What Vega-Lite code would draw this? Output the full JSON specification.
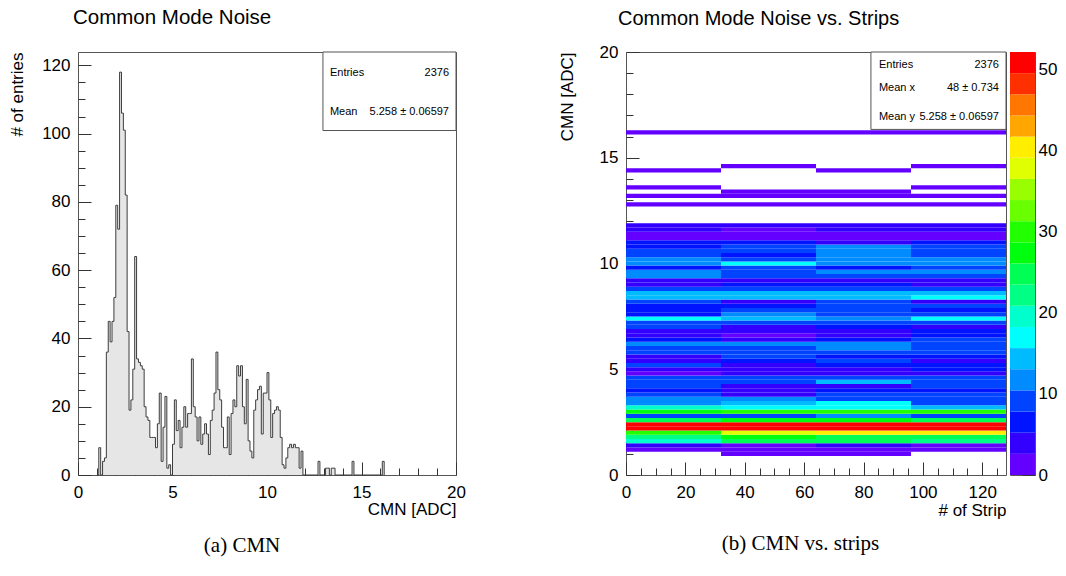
{
  "$schema": "https://vega.github.io/schema/vega-lite/v6.json",
  "background": "white",
  "padding": {"left": 8, "top": 7, "right": 5, "bottom": 5},
  "config": {
    "font": "Liberation Sans",
    "view": {"stroke": "#555555", "strokeWidth": 1},
    "axis": {"domain": false, "grid": false, "labelFontSize": 17, "labelColor": "#000000", "titleFontSize": 17, "titleFontWeight": "normal", "titleColor": "#000000", "tickColor": "#333333", "labelFlush": false, "labelOverlap": false},
    "title": {"fontSize": 20, "fontWeight": "normal", "color": "#000000"}
  },
  "spacing": 91,
  "hconcat": [
    {
      "title": {"text": "(a) CMN", "orient": "bottom", "font": "Liberation Serif", "fontSize": 21, "anchor": "middle", "frame": "bounds", "offset": 17, "dx": 5},
      "hconcat": [
        {
          "width": 378,
          "height": 423,
          "title": {"text": "Common Mode Noise", "anchor": "start", "frame": "group", "offset": 23, "dx": -5, "fontSize": 20.5},
          "resolve": {"axis": {"x": "independent", "y": "independent"}},
          "layer": [
            {
              "data": {"name": "hist", "values": [
                {"x": 1.0, "n": 0}, {"x": 1.1, "n": 8}, {"x": 1.2, "n": 0}, {"x": 1.3, "n": 4}, {"x": 1.4, "n": 5},
                {"x": 1.5, "n": 36}, {"x": 1.6, "n": 45}, {"x": 1.7, "n": 39}, {"x": 1.8, "n": 45}, {"x": 1.9, "n": 52},
                {"x": 2.0, "n": 79}, {"x": 2.1, "n": 72}, {"x": 2.2, "n": 118}, {"x": 2.3, "n": 106}, {"x": 2.4, "n": 101},
                {"x": 2.5, "n": 82}, {"x": 2.6, "n": 42}, {"x": 2.7, "n": 19}, {"x": 2.8, "n": 22}, {"x": 2.9, "n": 31},
                {"x": 3.0, "n": 64}, {"x": 3.1, "n": 34}, {"x": 3.2, "n": 33}, {"x": 3.3, "n": 32}, {"x": 3.4, "n": 31},
                {"x": 3.5, "n": 20}, {"x": 3.6, "n": 17}, {"x": 3.7, "n": 16}, {"x": 3.8, "n": 11}, {"x": 3.9, "n": 11},
                {"x": 4.0, "n": 11}, {"x": 4.1, "n": 8}, {"x": 4.2, "n": 15}, {"x": 4.3, "n": 24}, {"x": 4.4, "n": 4},
                {"x": 4.5, "n": 14}, {"x": 4.6, "n": 23}, {"x": 4.7, "n": 2}, {"x": 4.8, "n": 3}, {"x": 4.9, "n": 0},
                {"x": 5.0, "n": 9}, {"x": 5.1, "n": 22}, {"x": 5.2, "n": 13}, {"x": 5.3, "n": 16}, {"x": 5.4, "n": 8},
                {"x": 5.5, "n": 14}, {"x": 5.6, "n": 20}, {"x": 5.7, "n": 14}, {"x": 5.8, "n": 18}, {"x": 5.9, "n": 18},
                {"x": 6.0, "n": 34}, {"x": 6.1, "n": 20}, {"x": 6.2, "n": 17}, {"x": 6.3, "n": 10}, {"x": 6.4, "n": 17},
                {"x": 6.5, "n": 9}, {"x": 6.6, "n": 12}, {"x": 6.7, "n": 15}, {"x": 6.8, "n": 12}, {"x": 6.9, "n": 6},
                {"x": 7.0, "n": 16}, {"x": 7.1, "n": 19}, {"x": 7.2, "n": 24}, {"x": 7.3, "n": 36}, {"x": 7.4, "n": 25},
                {"x": 7.5, "n": 22}, {"x": 7.6, "n": 14}, {"x": 7.7, "n": 8}, {"x": 7.8, "n": 8}, {"x": 7.9, "n": 17},
                {"x": 8.0, "n": 6}, {"x": 8.1, "n": 18}, {"x": 8.2, "n": 22}, {"x": 8.3, "n": 20}, {"x": 8.4, "n": 32},
                {"x": 8.5, "n": 29}, {"x": 8.6, "n": 32}, {"x": 8.7, "n": 20}, {"x": 8.8, "n": 15}, {"x": 8.9, "n": 28},
                {"x": 9.0, "n": 10}, {"x": 9.1, "n": 7}, {"x": 9.2, "n": 5}, {"x": 9.3, "n": 19}, {"x": 9.4, "n": 22},
                {"x": 9.5, "n": 25}, {"x": 9.6, "n": 26}, {"x": 9.7, "n": 12}, {"x": 9.8, "n": 24}, {"x": 9.9, "n": 24},
                {"x": 10.0, "n": 30}, {"x": 10.1, "n": 22}, {"x": 10.2, "n": 11}, {"x": 10.3, "n": 18}, {"x": 10.4, "n": 19},
                {"x": 10.5, "n": 20}, {"x": 10.6, "n": 19}, {"x": 10.7, "n": 11}, {"x": 10.8, "n": 3}, {"x": 10.9, "n": 2},
                {"x": 11.0, "n": 5}, {"x": 11.1, "n": 8}, {"x": 11.2, "n": 9}, {"x": 11.3, "n": 8}, {"x": 11.4, "n": 9},
                {"x": 11.5, "n": 8}, {"x": 11.6, "n": 8}, {"x": 11.7, "n": 2}, {"x": 11.8, "n": 7}, {"x": 11.9, "n": 0},
                {"x": 12.7, "n": 4}, {"x": 12.8, "n": 0}, {"x": 13.1, "n": 2}, {"x": 13.2, "n": 2}, {"x": 13.3, "n": 0},
                {"x": 13.4, "n": 2}, {"x": 13.5, "n": 2}, {"x": 13.6, "n": 0}, {"x": 14.5, "n": 4}, {"x": 14.6, "n": 0},
                {"x": 16.1, "n": 4}, {"x": 16.2, "n": 0}
              ]},
              "mark": {"type": "area", "interpolate": "step-after", "color": "#e6e6e6"},
              "encoding": {
                "x": {"field": "x", "type": "quantitative", "title": "CMN [ADC]",
                  "scale": {"domain": [0, 20], "nice": false, "zero": false},
                  "axis": {"values": [0, 5, 10, 15, 20], "tickSize": -13, "labelPadding": 22, "titleAnchor": "end", "titlePadding": 1}},
                "y": {"field": "n", "type": "quantitative", "title": "# of entries",
                  "scale": {"domain": [0, 123.9], "nice": false},
                  "axis": {"values": [0, 20, 40, 60, 80, 100, 120], "tickSize": -13, "labelPadding": 21, "titleAnchor": "end", "titlePadding": 15}}
              }
            },
            {
              "data": {"name": "hist"},
              "mark": {"type": "line", "interpolate": "step-after", "color": "#3c3c3c", "strokeWidth": 1},
              "encoding": {
                "x": {"field": "x", "type": "quantitative",
                  "axis": {"orient": "bottom", "values": [1,2,3,4,6,7,8,9,11,12,13,14,16,17,18,19], "tickSize": -7, "labels": false, "title": null}},
                "y": {"field": "n", "type": "quantitative",
                  "axis": {"orient": "left", "values": [5,10,15,25,30,35,45,50,55,65,70,75,85,90,95,105,110,115], "tickSize": -7, "labels": false, "title": null}}
              }
            },
            {
              "data": {"values": [{"box": "stats"}]},
              "mark": {"type": "rect", "fill": "white", "stroke": "#555555", "strokeWidth": 1},
              "encoding": {"x": {"datum": 12.96, "axis": null}, "x2": {"datum": 20}, "y": {"datum": 100.9, "axis": null}, "y2": {"datum": 123.9}}
            },
            {
              "data": {"values": [{"label": "Entries", "value": "2376"}]},
              "layer": [
                {"mark": {"type": "text", "align": "left", "baseline": "middle", "fontSize": 11}, "encoding": {"x": {"datum": 13.33, "axis": null}, "y": {"datum": 117.8, "axis": null}, "text": {"field": "label"}}},
                {"mark": {"type": "text", "align": "right", "baseline": "middle", "fontSize": 11}, "encoding": {"x": {"datum": 19.63, "axis": null}, "y": {"datum": 117.8, "axis": null}, "text": {"field": "value"}}}
              ]
            },
            {
              "data": {"values": [{"label": "Mean", "value": "5.258 ± 0.06597"}]},
              "layer": [
                {"mark": {"type": "text", "align": "left", "baseline": "middle", "fontSize": 11}, "encoding": {"x": {"datum": 13.33, "axis": null}, "y": {"datum": 106.4, "axis": null}, "text": {"field": "label"}}},
                {"mark": {"type": "text", "align": "right", "baseline": "middle", "fontSize": 11}, "encoding": {"x": {"datum": 19.63, "axis": null}, "y": {"datum": 106.4, "axis": null}, "text": {"field": "value"}}}
              ]
            }
          ]
        }
      ]
    },
    {
      "title": {"text": "(b) CMN vs. strips", "orient": "bottom", "font": "Liberation Serif", "fontSize": 21, "anchor": "middle", "frame": "bounds", "offset": 14, "dx": -7},
      "spacing": 4,
      "bounds": "flush",
      "hconcat": [
        {
          "width": 380,
          "height": 423,
          "title": {"text": "Common Mode Noise vs. Strips", "anchor": "start", "frame": "group", "offset": 14.5, "dx": -8},
          "resolve": {"axis": {"x": "independent", "y": "independent"}},
          "layer": [
            {
              "data": {"values": [
                {"y": 0.9, "y2": 1.1, "a": 0, "b": 2, "c": 2, "d": 0},
                {"y": 1.1, "y2": 1.3, "a": 2, "b": 2, "c": 2, "d": 2},
                {"y": 1.3, "y2": 1.5, "a": 4, "b": 2, "c": 4, "d": 2},
                {"y": 1.5, "y2": 1.7, "a": 19, "b": 25, "c": 24, "d": 22},
                {"y": 1.7, "y2": 1.9, "a": 23, "b": 28, "c": 25, "d": 25},
                {"y": 1.9, "y2": 2.1, "a": 30, "b": 39, "c": 40, "d": 40},
                {"y": 2.1, "y2": 2.3, "a": 51, "b": 51, "c": 51, "d": 51},
                {"y": 2.3, "y2": 2.5, "a": 51, "b": 51, "c": 51, "d": 51},
                {"y": 2.5, "y2": 2.7, "a": 25, "b": 27, "c": 27, "d": 24},
                {"y": 2.7, "y2": 2.9, "a": 9, "b": 9, "c": 12, "d": 9},
                {"y": 2.9, "y2": 3.1, "a": 27, "b": 29, "c": 29, "d": 31},
                {"y": 3.1, "y2": 3.3, "a": 19, "b": 17, "c": 18, "d": 14},
                {"y": 3.3, "y2": 3.5, "a": 12, "b": 14, "c": 17, "d": 9},
                {"y": 3.5, "y2": 3.7, "a": 11, "b": 11, "c": 10, "d": 9},
                {"y": 3.7, "y2": 3.9, "a": 8, "b": 5, "c": 8, "d": 10},
                {"y": 3.9, "y2": 4.1, "a": 6, "b": 4, "c": 6, "d": 6},
                {"y": 4.1, "y2": 4.3, "a": 8, "b": 5, "c": 5, "d": 8},
                {"y": 4.3, "y2": 4.5, "a": 8, "b": 8, "c": 14, "d": 8},
                {"y": 4.5, "y2": 4.7, "a": 8, "b": 8, "c": 8, "d": 9},
                {"y": 4.7, "y2": 4.9, "a": 2, "b": 5, "c": 5, "d": 5},
                {"y": 4.9, "y2": 5.1, "a": 4, "b": 5, "c": 4, "d": 6},
                {"y": 5.1, "y2": 5.3, "a": 8, "b": 4, "c": 6, "d": 7},
                {"y": 5.3, "y2": 5.5, "a": 5, "b": 7, "c": 8, "d": 5},
                {"y": 5.5, "y2": 5.7, "a": 4, "b": 8, "c": 7, "d": 6},
                {"y": 5.7, "y2": 5.9, "a": 9, "b": 9, "c": 8, "d": 8},
                {"y": 5.9, "y2": 6.1, "a": 10, "b": 10, "c": 11, "d": 9},
                {"y": 6.1, "y2": 6.3, "a": 11, "b": 11, "c": 11, "d": 9},
                {"y": 6.3, "y2": 6.5, "a": 6, "b": 5, "c": 6, "d": 8},
                {"y": 6.5, "y2": 6.7, "a": 4, "b": 2, "c": 3, "d": 6},
                {"y": 6.7, "y2": 6.9, "a": 4, "b": 5, "c": 4, "d": 6},
                {"y": 6.9, "y2": 7.1, "a": 8, "b": 5, "c": 7, "d": 5},
                {"y": 7.1, "y2": 7.3, "a": 9, "b": 8, "c": 8, "d": 9},
                {"y": 7.3, "y2": 7.5, "a": 17, "b": 14, "c": 13, "d": 17},
                {"y": 7.5, "y2": 7.7, "a": 7, "b": 13, "c": 9, "d": 8},
                {"y": 7.7, "y2": 7.9, "a": 6, "b": 8, "c": 8, "d": 7},
                {"y": 7.9, "y2": 8.1, "a": 6, "b": 6, "c": 8, "d": 8},
                {"y": 8.1, "y2": 8.3, "a": 9, "b": 5, "c": 9, "d": 4},
                {"y": 8.3, "y2": 8.5, "a": 14, "b": 14, "c": 14, "d": 17},
                {"y": 8.5, "y2": 8.7, "a": 14, "b": 14, "c": 14, "d": 14},
                {"y": 8.7, "y2": 8.9, "a": 9, "b": 9, "c": 9, "d": 8},
                {"y": 8.9, "y2": 9.1, "a": 4, "b": 6, "c": 7, "d": 3},
                {"y": 9.1, "y2": 9.3, "a": 4, "b": 4, "c": 5, "d": 4},
                {"y": 9.3, "y2": 9.5, "a": 11, "b": 9, "c": 9, "d": 9},
                {"y": 9.5, "y2": 9.7, "a": 11, "b": 10, "c": 11, "d": 11},
                {"y": 9.7, "y2": 9.9, "a": 6, "b": 9, "c": 6, "d": 9},
                {"y": 9.9, "y2": 10.1, "a": 13, "b": 16, "c": 13, "d": 12},
                {"y": 10.1, "y2": 10.3, "a": 13, "b": 10, "c": 13, "d": 11},
                {"y": 10.3, "y2": 10.5, "a": 10, "b": 6, "c": 11, "d": 9},
                {"y": 10.5, "y2": 10.7, "a": 9, "b": 9, "c": 12, "d": 9},
                {"y": 10.7, "y2": 10.9, "a": 6, "b": 9, "c": 11, "d": 9},
                {"y": 10.9, "y2": 11.1, "a": 6, "b": 7, "c": 5, "d": 6},
                {"y": 11.1, "y2": 11.3, "a": 2, "b": 2, "c": 2, "d": 2},
                {"y": 11.3, "y2": 11.5, "a": 2, "b": 2, "c": 2, "d": 2},
                {"y": 11.5, "y2": 11.7, "a": 4, "b": 2, "c": 4, "d": 4},
                {"y": 11.7, "y2": 11.9, "a": 4, "b": 4, "c": 4, "d": 4},
                {"y": 12.7, "y2": 12.9, "a": 1, "b": 1, "c": 1, "d": 1},
                {"y": 13.1, "y2": 13.3, "a": 1, "b": 1, "c": 1, "d": 1},
                {"y": 13.3, "y2": 13.5, "a": 0, "b": 1, "c": 1, "d": 0},
                {"y": 13.5, "y2": 13.7, "a": 1, "b": 0, "c": 0, "d": 1},
                {"y": 14.3, "y2": 14.5, "a": 1, "b": 0, "c": 1, "d": 0},
                {"y": 14.5, "y2": 14.7, "a": 0, "b": 1, "c": 0, "d": 1},
                {"y": 16.1, "y2": 16.3, "a": 1, "b": 1, "c": 1, "d": 1}
              ]},
              "transform": [
                {"fold": ["a", "b", "c", "d"], "as": ["col", "n"]},
                {"filter": "datum.n > 0"},
                {"lookup": "col", "from": {"data": {"values": [
                  {"col": "a", "s0": 0, "s1": 32}, {"col": "b", "s0": 32, "s1": 64},
                  {"col": "c", "s0": 64, "s1": 96}, {"col": "d", "s0": 96, "s1": 128}
                ]}, "key": "col", "fields": ["s0", "s1"]}}
              ],
              "mark": {"type": "rect"},
              "encoding": {
                "x": {"field": "s0", "type": "quantitative", "title": "# of Strip",
                  "scale": {"domain": [0, 128], "nice": false, "zero": false},
                  "axis": {"values": [0, 20, 40, 60, 80, 100, 120], "tickSize": -13, "labelPadding": 22, "titleAnchor": "end", "titlePadding": 2}},
                "x2": {"field": "s1"},
                "y": {"field": "y", "type": "quantitative", "title": "CMN [ADC]",
                  "scale": {"domain": [0, 20], "nice": false, "zero": false},
                  "axis": {"values": [0, 5, 10, 15, 20], "tickSize": -13, "labelPadding": 21, "titleAnchor": "end", "titlePadding": 23}},
                "y2": {"field": "y2"},
                "color": {"field": "n", "type": "quantitative", "legend": null,
                  "scale": {"type": "threshold",
                    "domain": [2.61, 5.22, 7.83, 10.44, 13.05, 15.66, 18.27, 20.88, 23.49, 26.1, 28.71, 31.32, 33.93, 36.54, 39.15, 41.76, 44.37, 46.98, 49.59],
                    "range": ["#6300ff", "#3300ff", "#0014ff", "#0044ff", "#008bff", "#00bbff", "#00fffc", "#00ffcc", "#00ff85", "#00ff55", "#00ff0e", "#22ff00", "#69ff00", "#99ff00", "#e0ff00", "#ffee00", "#ffa700", "#ff7700", "#ff3000", "#ff0000"]}}
              }
            },
            {
              "data": {"values": [{"box": "stats"}]},
              "mark": {"type": "rect", "fill": "white", "stroke": "#555555", "strokeWidth": 1},
              "encoding": {
                "x": {"datum": 82.5, "type": "quantitative",
                  "axis": {"orient": "bottom", "values": [5,10,15,25,30,35,45,50,55,65,70,75,85,90,95,105,110,115,125], "tickSize": -7, "labels": false, "title": null}},
                "x2": {"datum": 128},
                "y": {"datum": 16.34, "type": "quantitative",
                  "axis": {"orient": "left", "values": [1,2,3,4,6,7,8,9,11,12,13,14,16,17,18,19], "tickSize": -7, "labels": false, "title": null}},
                "y2": {"datum": 20}
              }
            },
            {
              "data": {"values": [
                {"label": "Entries", "value": "2376", "row": 1},
                {"label": "Mean x", "value": "48 ±  0.734", "row": 2},
                {"label": "Mean y", "value": "5.258 ± 0.06597", "row": 3}
              ]},
              "layer": [
                {"transform": [{"filter": "datum.row === 1"}], "mark": {"type": "text", "align": "left", "baseline": "middle", "fontSize": 11}, "encoding": {"x": {"datum": 85.2, "axis": null}, "y": {"datum": 19.38, "axis": null}, "text": {"field": "label"}}},
                {"transform": [{"filter": "datum.row === 1"}], "mark": {"type": "text", "align": "right", "baseline": "middle", "fontSize": 11}, "encoding": {"x": {"datum": 125.6, "axis": null}, "y": {"datum": 19.38, "axis": null}, "text": {"field": "value"}}},
                {"transform": [{"filter": "datum.row === 2"}], "mark": {"type": "text", "align": "left", "baseline": "middle", "fontSize": 11}, "encoding": {"x": {"datum": 85.2, "axis": null}, "y": {"datum": 18.29, "axis": null}, "text": {"field": "label"}}},
                {"transform": [{"filter": "datum.row === 2"}], "mark": {"type": "text", "align": "right", "baseline": "middle", "fontSize": 11}, "encoding": {"x": {"datum": 125.6, "axis": null}, "y": {"datum": 18.29, "axis": null}, "text": {"field": "value"}}},
                {"transform": [{"filter": "datum.row === 3"}], "mark": {"type": "text", "align": "left", "baseline": "middle", "fontSize": 11}, "encoding": {"x": {"datum": 85.2, "axis": null}, "y": {"datum": 16.91, "axis": null}, "text": {"field": "label"}}},
                {"transform": [{"filter": "datum.row === 3"}], "mark": {"type": "text", "align": "right", "baseline": "middle", "fontSize": 11}, "encoding": {"x": {"datum": 125.6, "axis": null}, "y": {"datum": 16.91, "axis": null}, "text": {"field": "value"}}}
              ]
            }
          ]
        },
        {
          "width": 25,
          "height": 423,
          "data": {"values": [
            {"lo": 0, "hi": 2.61}, {"lo": 2.61, "hi": 5.22}, {"lo": 5.22, "hi": 7.83}, {"lo": 7.83, "hi": 10.44},
            {"lo": 10.44, "hi": 13.05}, {"lo": 13.05, "hi": 15.66}, {"lo": 15.66, "hi": 18.27}, {"lo": 18.27, "hi": 20.88},
            {"lo": 20.88, "hi": 23.49}, {"lo": 23.49, "hi": 26.1}, {"lo": 26.1, "hi": 28.71}, {"lo": 28.71, "hi": 31.32},
            {"lo": 31.32, "hi": 33.93}, {"lo": 33.93, "hi": 36.54}, {"lo": 36.54, "hi": 39.15}, {"lo": 39.15, "hi": 41.76},
            {"lo": 41.76, "hi": 44.37}, {"lo": 44.37, "hi": 46.98}, {"lo": 46.98, "hi": 49.59}, {"lo": 49.59, "hi": 52.2}
          ]},
          "mark": {"type": "rect"},
          "encoding": {
            "y": {"field": "lo", "type": "quantitative", "title": null,
              "scale": {"domain": [0, 52.2], "nice": false, "zero": false},
              "axis": {"orient": "right", "values": [0, 10, 20, 30, 40, 50], "tickSize": -13, "labelPadding": 16}},
            "y2": {"field": "hi"},
            "color": {"field": "lo", "type": "quantitative", "legend": null,
              "scale": {"type": "threshold",
                "domain": [2.61, 5.22, 7.83, 10.44, 13.05, 15.66, 18.27, 20.88, 23.49, 26.1, 28.71, 31.32, 33.93, 36.54, 39.15, 41.76, 44.37, 46.98, 49.59],
                "range": ["#6300ff", "#3300ff", "#0014ff", "#0044ff", "#008bff", "#00bbff", "#00fffc", "#00ffcc", "#00ff85", "#00ff55", "#00ff0e", "#22ff00", "#69ff00", "#99ff00", "#e0ff00", "#ffee00", "#ffa700", "#ff7700", "#ff3000", "#ff0000"]}}
          }
        }
      ]
    }
  ]
}
